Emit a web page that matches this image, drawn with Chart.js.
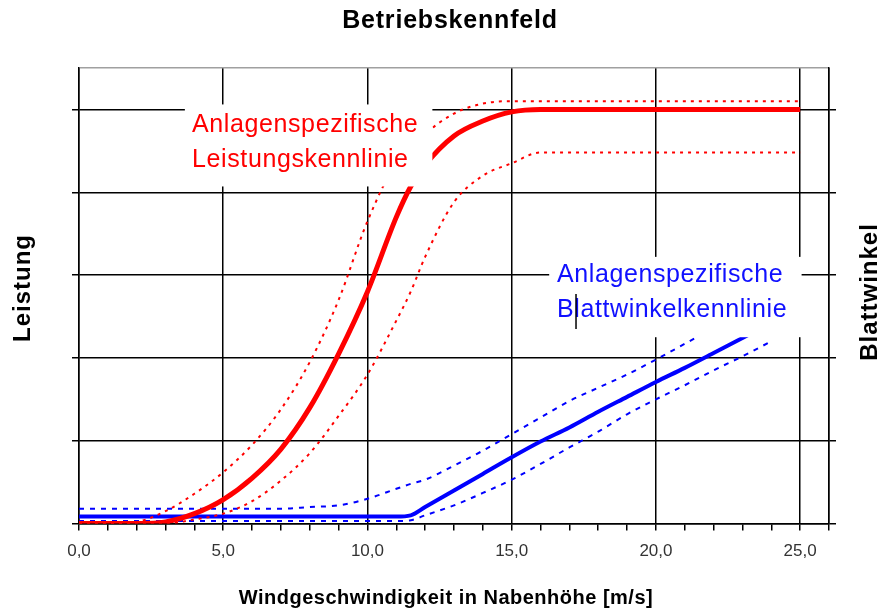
<!DOCTYPE html>
<html>
<head>
<meta charset="utf-8">
<title>Betriebskennfeld</title>
<script src="https://cdn.jsdelivr.net/npm/chart.js@4/dist/chart.umd.min.js"></script>
<style>
  html, body { margin: 0; padding: 0; background: #fff; }
</style>
</head>
<body>
<canvas id="kennfeld" width="881" height="610"></canvas>
<script>
// Windgeschwindigkeit in Nabenhöhe [m/s]
var windSpeed   = [0, 1, 2, 3, 4, 5, 6, 7, 8, 9, 10, 11, 11.5, 12, 13, 14, 15, 16, 17, 18, 19, 20, 21, 22, 23, 24, 25];

// Leistungskennlinie (Mittel, obere und untere Grenze)
var powerCurve  = [0, 0, 0, 0.02, 0.12, 0.29, 0.55, 0.9, 1.4, 2.05, 2.8, 3.7, 4.07, 4.33, 4.68, 4.86, 4.97, 5.0, 5.0, 5.0, 5.0, 5.0, 5.0, 5.0, 5.0, 5.0, 5.0];
var powerUpper  = [0, 0, 0.02, 0.15, 0.36, 0.62, 0.95, 1.38, 1.95, 2.7, 3.65, 4.35, 4.5, 4.7, 4.95, 5.07, 5.1, 5.1, 5.1, 5.1, 5.1, 5.1, 5.1, 5.1, 5.1, 5.1, 5.1];
var powerLower  = [0, 0, 0, 0, 0.05, 0.12, 0.27, 0.52, 0.85, 1.3, 1.8, 2.45, 2.8, 3.22, 3.88, 4.2, 4.35, 4.48, 4.48, 4.48, 4.48, 4.48, 4.48, 4.48, 4.48, 4.48, 4.48];

// Blattwinkelkennlinie (Mittel, obere und untere Grenze)
var pitchCurve  = [0.085, 0.085, 0.085, 0.085, 0.085, 0.085, 0.085, 0.085, 0.085, 0.085, 0.085, 0.085, 0.1, 0.2, 0.4, 0.6, 0.8, 0.99, 1.16, 1.35, 1.53, 1.71, 1.88, 2.06, 2.24, 2.42, null];
var pitchUpper  = [0.18, 0.18, 0.18, 0.18, 0.18, 0.18, 0.18, 0.18, 0.2, 0.22, 0.3, 0.42, 0.48, 0.53, 0.7, 0.88, 1.08, 1.28, 1.48, 1.64, 1.8, 1.98, 2.17, 2.36, 2.55, null, null];
var pitchLower  = [0.03, 0.03, 0.03, 0.03, 0.03, 0.03, 0.03, 0.03, 0.03, 0.03, 0.03, 0.03, 0.04, 0.1, 0.22, 0.37, 0.53, 0.72, 0.92, 1.11, 1.32, 1.5, 1.67, 1.85, 2.02, 2.2, null];

var xTickLabels = ['0,0', '5,0', '10,0', '15,0', '20,0', '25,0'];

function points(values) {
  return windSpeed.map(function (w, i) { return { x: w, y: values[i] }; });
}

var FONT = '"Liberation Sans", Arial, sans-serif';

// Beschriftungsfelder im Diagramm (weißer Hintergrund verdeckt Gitter und Linien)
var labelBoxes = [
  { x0: 3.67, x1: 12.25, y0: 4.07, y1: 5.06, tx: 3.92, ty: 4.81, color: '#ff0000',
    lines: ['Anlagenspezifische', 'Leistungskennlinie'] },
  { x0: 16.3, x1: 25.05, y0: 2.25, y1: 3.22, tx: 16.57, ty: 3.0, color: '#1010ff',
    lines: ['Anlagenspezifische', 'Blattwinkelkennlinie'], cursor: 17.23 }
];

var textPlugin = {
  id: 'kennfeldTexts',
  afterDatasetsDraw: function (chart) {
    var ctx = chart.ctx, xs = chart.scales.x, ys = chart.scales.y;
    labelBoxes.forEach(function (b) {
      var l = xs.getPixelForValue(b.x0), r = xs.getPixelForValue(b.x1);
      var t = ys.getPixelForValue(b.y1), btm = ys.getPixelForValue(b.y0);
      ctx.save();
      ctx.fillStyle = '#fff';
      ctx.fillRect(l, t, r - l, btm - t);
      ctx.fillStyle = b.color;
      ctx.font = '25px ' + FONT;
      ctx.letterSpacing = '0.6px';
      ctx.textBaseline = 'middle';
      var tx = xs.getPixelForValue(b.tx), ty = ys.getPixelForValue(b.ty);
      b.lines.forEach(function (line, i) {
        ctx.fillText(line, tx, ty + i * 35);
      });
      if (b.cursor) {
        var cx = xs.getPixelForValue(b.cursor);
        ctx.strokeStyle = '#000';
        ctx.lineWidth = 1.5;
        ctx.beginPath();
        ctx.moveTo(cx, ty + 35 - 16);
        ctx.lineTo(cx, ty + 35 + 19);
        ctx.stroke();
      }
      ctx.restore();
    });
  },
  afterDraw: function (chart) {
    var ctx = chart.ctx;
    ctx.save();
    ctx.fillStyle = '#000';
    ctx.textAlign = 'center';
    ctx.textBaseline = 'middle';

    ctx.font = 'bold 25px ' + FONT;
    ctx.letterSpacing = '0.8px';
    ctx.fillText('Betriebskennfeld', 450, 21);

    ctx.font = 'bold 20px ' + FONT;
    ctx.letterSpacing = '0.5px';
    ctx.fillText('Windgeschwindigkeit in Nabenhöhe [m/s]', 446, 598);

    ctx.font = 'bold 24px ' + FONT;
    ctx.letterSpacing = '1px';
    ctx.save();
    ctx.translate(23, 288);
    ctx.rotate(-Math.PI / 2);
    ctx.fillText('Leistung', 0, 0);
    ctx.restore();
    ctx.save();
    ctx.translate(870, 292);
    ctx.rotate(-Math.PI / 2);
    ctx.fillText('Blattwinkel', 0, 0);
    ctx.restore();
    ctx.restore();
  }
};

function gridColor(ctx) {
  return ctx.tick && ctx.tick.value === 5.5 ? '#a0a0a0' : '#000';
}
function tickMarkColor(ctx) {
  return ctx.tick && ctx.tick.value === 5.5 ? 'rgba(0,0,0,0)' : '#000';
}

var chart = new Chart(document.getElementById('kennfeld').getContext('2d'), {
  type: 'line',
  data: {
    datasets: [
      { data: points(powerCurve), borderColor: '#ff0000', borderWidth: 5, yAxisID: 'y' },
      { data: points(powerUpper), borderColor: '#ff0000', borderWidth: 2, borderDash: [3, 5], yAxisID: 'y' },
      { data: points(powerLower), borderColor: '#ff0000', borderWidth: 2, borderDash: [3, 5], yAxisID: 'y' },
      { data: points(pitchCurve), borderColor: '#0000ff', borderWidth: 4, yAxisID: 'y2' },
      { data: points(pitchUpper), borderColor: '#0000ff', borderWidth: 2, borderDash: [5, 6], yAxisID: 'y2' },
      { data: points(pitchLower), borderColor: '#0000ff', borderWidth: 2, borderDash: [5, 6], yAxisID: 'y2' }
    ]
  },
  options: {
    responsive: false,
    animation: false,
    events: [],
    layout: { padding: { left: 72, right: 45, top: 68, bottom: 37 } },
    elements: {
      point: { radius: 0 },
      line: { cubicInterpolationMode: 'monotone', fill: false }
    },
    plugins: {
      legend: { display: false },
      title: { display: false },
      tooltip: { enabled: false }
    },
    scales: {
      x: {
        type: 'linear',
        min: 0,
        max: 26,
        border: { display: true, color: '#000', width: 1.5 },
        grid: {
          color: function (ctx) {
            var v = ctx.tick ? ctx.tick.value : 0;
            return (v % 5 === 0 || v === 26) ? '#000' : 'rgba(0,0,0,0)';
          },
          tickColor: '#000',
          lineWidth: 1.5,
          tickLength: 7
        },
        ticks: {
          stepSize: 1,
          autoSkip: false,
          maxRotation: 0,
          padding: 11,
          color: '#333',
          font: { family: FONT, size: 17 },
          callback: function (value) {
            return value % 5 === 0 ? xTickLabels[value / 5] : '';
          }
        }
      },
      y: {
        position: 'left',
        min: 0,
        max: 5.5,
        border: { display: true, color: '#000', width: 1.5 },
        grid: { color: gridColor, tickColor: tickMarkColor, lineWidth: 1.5, tickLength: 7 },
        ticks: { stepSize: 1, display: false }
      },
      y2: {
        position: 'right',
        min: 0,
        max: 5.5,
        border: { display: true, color: '#000', width: 1.5 },
        grid: { drawOnChartArea: false, tickColor: tickMarkColor, lineWidth: 1.5, tickLength: 7 },
        ticks: { stepSize: 1, display: false }
      }
    }
  },
  plugins: [textPlugin]
});
</script>
</body>
</html>
